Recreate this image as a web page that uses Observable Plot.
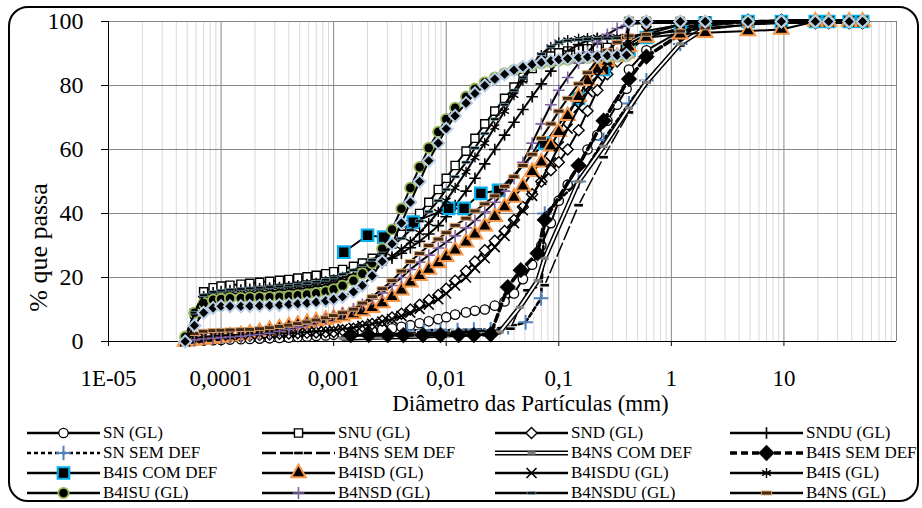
<!DOCTYPE html>
<html><head><meta charset="utf-8">
<script src="https://cdn.jsdelivr.net/npm/d3@7"></script>
<script src="https://cdn.jsdelivr.net/npm/@observablehq/plot@0.6"></script>
<style>
body{margin:0;background:#fff;}
#wrap{position:relative;width:922px;height:508px;overflow:hidden;font-family:"Liberation Serif","Times New Roman",serif;background:#fff;}
#chart svg{display:block;}
#frame{position:absolute;left:8px;top:6px;width:907px;height:492px;border:2px solid #000;border-radius:20px;pointer-events:none;}
#legend{position:absolute;left:0;top:422px;width:922px;height:86px;}
.item{position:absolute;height:20px;display:flex;align-items:center;font-size:17px;white-space:nowrap;}
.item svg{display:block;margin-right:3px;}
</style></head><body>
<div id="wrap"><div id="chart"></div><div id="legend"></div><div id="frame"></div></div>
<script>
// ---------- DATA ----------
const xTicks = [1e-5, 1e-4, 1e-3, 1e-2, 1e-1, 1, 10];
const xTickLabels = ["1E-05", "0,0001", "0,001", "0,01", "0,1", "1", "10"];
const yTicks = [0, 20, 40, 60, 80, 100];
const xTitle = "Diâmetro das Partículas (mm)";
const yTitle = "% que passa";

// laser granulometry (GL) size classes, mm
const diamGL = [0.000048, 0.000058, 0.00007, 0.000085, 0.0001, 0.00012, 0.00015, 0.00018, 0.00022, 0.00027, 0.00033, 0.0004, 0.00048, 0.00058, 0.0007, 0.00085, 0.001, 0.0012, 0.0015, 0.0018, 0.0022, 0.0027, 0.0033, 0.004, 0.0048, 0.0058, 0.007, 0.0085, 0.01, 0.012, 0.015, 0.018, 0.022, 0.027, 0.033, 0.04, 0.048, 0.058, 0.07, 0.085, 0.1, 0.12, 0.15, 0.18, 0.22, 0.27, 0.33, 0.4];
// sieve sizes used after the laser range, mm
const diamSieveGL = [0.42, 0.6, 1.2, 2, 4.8, 9.5, 19, 25, 38, 50];

const snGL    = [0, 0.2, 0.3, 0.4, 0.5, 0.6, 0.7, 0.8, 0.9, 1, 1.1, 1.2, 1.4, 1.5, 1.7, 1.9, 2.1, 2.4, 2.7, 3, 3.3, 3.7, 4.1, 4.6, 5.1, 5.7, 6.3, 7, 7.6, 8.4, 9.1, 9.6, 10, 11.2, 12.5, 15, 19.5, 24, 30, 37, 44, 49, 55, 60, 64.5, 69, 74, 79];
const snTail  = [85, 91, 97, 99.5, 100, 100, 100, 100, 100, 100];
const snuGL   = [0, 9, 15.5, 16.8, 17.3, 17.6, 17.9, 18.2, 18.5, 18.8, 19.1, 19.4, 19.8, 20.2, 20.7, 21.2, 21.8, 22.5, 23.5, 24.5, 26, 28, 30.5, 33.5, 36.5, 40, 43.5, 47.5, 51, 55, 59.5, 63.5, 68, 72, 76, 79.5, 82.5, 85.3, 87.5, 89.2, 90.2, 90.8, 91.2, 91.5, 91.7, 91.9, 92, 92];
const snuTail = [100, 100, 100, 100, 100, 100, 100, 100, 100, 100];
const sndGL   = [0, 0.5, 0.8, 1, 1.2, 1.4, 1.6, 1.8, 2, 2.2, 2.4, 2.5, 2.6, 2.7, 2.8, 2.9, 3, 3.5, 4, 4.7, 5.5, 6.5, 7.5, 8.7, 10, 11.5, 13, 14.5, 16.5, 19, 22, 25, 28.5, 31.5, 34.5, 38, 42, 46, 50, 53.5, 56, 60, 66, 72, 78.5, 83.5, 87.5, 90];
const sndTail = [93, 96, 99, 100, 100, 100, 100, 100, 100, 100];
const snduGL  = [0, 9, 14, 15.2, 15.6, 15.9, 16.1, 16.3, 16.5, 16.7, 16.9, 17.1, 17.4, 17.7, 18.1, 18.6, 19.2, 20, 21, 22, 23.2, 24.5, 26, 27.6, 29.3, 31.3, 33.6, 36.2, 39, 42.5, 47, 51, 55.5, 60, 64.5, 68.5, 72.5, 76.5, 80.5, 84.5, 88, 90.8, 92.8, 94, 94.6, 95, 95.2, 95.3];
const snduTail = [100, 100, 100, 100, 100, 100, 100, 100, 100, 100];

const snSemDefDiam = [0.0045, 0.0063, 0.0089, 0.0126, 0.0176, 0.0248, 0.0355, 0.0507, 0.0696, 0.075, 0.15, 0.25, 0.42, 0.6, 1.2, 2, 4.8, 9.5, 19, 25, 38, 50];
const snSemDefPct  = [3.5, 3.5, 3.6, 3.6, 3.7, 3.8, 4.5, 6, 13.5, 40, 50, 63, 74.4, 81.6, 93, 98, 99.5, 100, 100, 100, 100, 100];
const b4nsSemDefDiam = [0.0014, 0.003, 0.006, 0.012, 0.025, 0.0372, 0.0528, 0.075, 0.15, 0.25, 0.42, 0.6, 1.2, 2, 4.8, 9.5, 19, 25, 38, 50];
const b4nsSemDefPct  = [2, 2.5, 2.8, 3, 3.5, 4, 16, 17.6, 42.6, 57.6, 71.6, 81, 92.5, 97.5, 99.5, 100, 100, 100, 100, 100];
const b4nsComDefDiam = [0.0012, 0.0025, 0.005, 0.01, 0.02, 0.03, 0.045, 0.065, 0.075, 0.15, 0.25, 0.42, 0.6, 1.2, 2, 4.8, 9.5, 19, 25, 38, 50];
const b4nsComDefPct  = [1, 1.3, 1.6, 2, 2.5, 3, 10.7, 19, 26, 50, 61, 73, 81, 93, 98, 99.5, 100, 100, 100, 100, 100];
const b4isSemDefDiam = [0.00142, 0.00205, 0.00302, 0.00417, 0.00621, 0.0089, 0.0129, 0.0176, 0.0248, 0.0352, 0.0459, 0.0648, 0.075, 0.15, 0.25, 0.42, 0.6, 1.2, 2, 4.8, 9.5, 19, 25, 38, 50];
const b4isSemDefPct  = [2, 2, 2, 2, 2, 2, 2, 2, 2.2, 17, 22.3, 27.6, 38, 55, 69, 82, 89, 96, 99, 100, 100, 100, 100, 100, 100];
const b4isComDefDiam = [0.00123, 0.002, 0.00278, 0.0051, 0.0105, 0.0144, 0.0203, 0.0292, 0.075, 0.15, 0.25, 0.42, 0.6, 1.2, 2, 4.8, 9.5, 19, 25, 38, 50];
const b4isComDefPct  = [27.9, 33.2, 32.6, 37.3, 41.6, 41.6, 46.3, 47.2, 62, 76, 85, 91, 95, 98, 99.5, 100, 100, 100, 100, 100, 100];

const b4isdGL   = [0, 0.3, 0.6, 0.9, 1.2, 1.6, 2, 2.5, 3, 3.6, 4.2, 4.8, 5.3, 5.8, 6.3, 6.8, 7.3, 7.9, 8.6, 9.5, 10.5, 12, 14, 16, 18.5, 20.5, 22.5, 24.5, 26.5, 28.5, 31, 33.5, 36, 39, 42, 45, 48.5, 53, 56, 61, 65.5, 70.5, 76.5, 81.5, 85, 87.5, 89, 90];
const b4isdTail = [92, 95, 96, 96.5, 97, 97.5, 100, 100, 100, 100];
const b4isduGL  = [0, 1, 1.5, 1.7, 1.9, 2, 2.1, 2.2, 2.3, 2.4, 2.5, 2.6, 2.7, 2.9, 3.1, 3.3, 3.5, 3.9, 4.3, 4.9, 5.5, 6.2, 7, 8, 9, 10.2, 11.5, 13.2, 15, 17.5, 20, 23, 26, 29.5, 33, 37, 41, 45.5, 50.5, 56, 61, 66.5, 73, 78, 83, 87, 90, 92];
const b4isduTail = [94, 97, 99, 100, 100, 100, 100, 100, 100, 100];
const b4isGL    = [0, 8, 13, 14.2, 14.6, 14.9, 15.1, 15.3, 15.5, 15.7, 15.9, 16.1, 16.4, 16.7, 17.1, 17.6, 18.2, 19, 20, 21.3, 22.8, 24.6, 26.6, 28.8, 31.2, 34, 37, 40.5, 44, 48, 53, 57.5, 62, 67, 72, 77, 81.5, 86, 89.5, 92, 93.5, 94.2, 94.6, 94.8, 95, 95.1, 95.2, 95.3];
const b4isTail  = [100, 100, 100, 100, 100, 100, 100, 100, 100, 100];
const b4isuGL   = [1.5, 9, 12, 13, 13.3, 13.5, 13.6, 13.7, 13.8, 13.9, 14, 14.2, 14.4, 14.7, 15.1, 15.6, 16.3, 17.4, 19, 21.2, 24.5, 29, 35, 41.5, 48, 54.5, 60.5, 65.5, 69.5, 73, 76.5, 79, 81, 82.5, 83.8, 84.8, 85.6, 86.3, 86.9, 87.4, 87.8, 88.1, 88.4, 88.6, 88.8, 89, 89.1, 89.2];
const b4isuTail = [100, 100, 100, 100, 100, 100, 100, 100, 100, 100];
const b4nsdGL   = [0, 0.5, 0.8, 1, 1.2, 1.4, 1.6, 1.9, 2.2, 2.6, 3.2, 3.8, 4.5, 5.3, 6.1, 7, 7.9, 8.9, 10.2, 11.6, 13.2, 15.2, 17.5, 20, 22.5, 24.8, 27, 29.2, 31, 33, 35.5, 37.8, 40.5, 43.5, 47, 51, 56, 62, 68, 74, 78.5, 82.5, 87, 90.5, 93.5, 96, 97.8, 98.8];
const b4nsdTail = [99.2, 99.5, 99.5, 99.6, 99.8, 100, 100, 100, 100, 100];
const b4nsduGL  = [0, 9, 14.5, 15.5, 15.9, 16.2, 16.4, 16.6, 16.8, 17, 17.2, 17.5, 17.8, 18.2, 18.7, 19.3, 20, 21, 22.3, 23.8, 25.5, 27.5, 29.8, 32.2, 34.8, 37.6, 40.6, 44, 47.5, 51.5, 56, 60.5, 65, 69.5, 74, 78.5, 82.5, 86.5, 89.8, 92.2, 93.5, 94, 94.3, 94.5, 94.6, 94.7, 94.8, 94.9];
const b4nsduTail = [100, 100, 100, 100, 100, 100, 100, 100, 100, 100];
const b4nsGL    = [0, 2.5, 3.2, 3.4, 3.5, 3.6, 3.7, 3.8, 4, 4.3, 4.7, 5.1, 5.6, 6.1, 6.7, 7.4, 8.1, 9, 10.1, 12, 14, 16.5, 19, 22, 25, 27.5, 30, 32, 34, 36.3, 38.5, 40.8, 43, 45.5, 48.5, 51.5, 55, 58.5, 63.5, 68, 72, 76, 80.5, 84, 88, 91, 93.5, 95];
const b4nsTail  = [95.5, 96, 97, 98, 99, 100, 100, 100, 100, 100];
// series drawn with light-blue-edged diamonds, not listed in the legend
const extraGL   = [0, 5, 9, 10.5, 11, 11, 11, 11.1, 11.2, 11.3, 11.4, 11.6, 11.8, 12, 12.3, 12.7, 13.2, 14, 15.5, 17.5, 20.5, 25, 30.5, 37, 43.5, 50, 56.5, 62, 66.5, 70.5, 74.5, 77.5, 80, 82, 83.5, 84.8, 85.8, 86.6, 87.2, 87.7, 88.1, 88.4, 88.7, 88.9, 89.1, 89.3, 89.4, 89.5];
const extraTail = [100, 100, 100, 100, 100, 100, 100, 100, 100, 100];

// ---------- build ----------
const mk = (diam, pct) => diam.map((d, i) => ({d, p: pct[i]}));
const gl = (pct, tail) => mk(diamGL.concat(diamSieveGL), pct.concat(tail));

const symDiamond = {draw(c, size){const s = Math.sqrt(size/2); c.moveTo(0,-s); c.lineTo(s,0); c.lineTo(0,s); c.lineTo(-s,0); c.closePath();}};
const bar = (ratio) => ({draw(c, size){const h = Math.sqrt(size/ratio), w = h*ratio; c.rect(-w/2, -h/2, w, h);}});
const barBig = bar(2.6), barSmall = bar(3.2), barMid = bar(2.4);

const LW = 2;
const series = [
  {name:"SN (GL)", data: gl(snGL, snTail), line:{stroke:"#000", strokeWidth:LW}, dot:{symbol:"circle", r:4.7, fill:"#fff", stroke:"#000", strokeWidth:1.3}},
  {name:"SNU (GL)", data: gl(snuGL, snuTail), line:{stroke:"#000", strokeWidth:LW}, dot:{symbol:"square", r:4.6, fill:"#fff", stroke:"#000", strokeWidth:1.4}},
  {name:"SND (GL)", data: gl(sndGL, sndTail), line:{stroke:"#000", strokeWidth:LW}, dot:{symbol:symDiamond, r:4.4, fill:"#fff", stroke:"#000", strokeWidth:1.4}},
  {name:"SNDU (GL)", data: gl(snduGL, snduTail), line:{stroke:"#000", strokeWidth:LW}, dot:{symbol:"plus", r:3.8, fill:"none", stroke:"#000", strokeWidth:1.6}},
  {name:"SN SEM DEF", data: mk(snSemDefDiam, snSemDefPct), line:{stroke:"#000", strokeWidth:2.6, strokeDasharray:"4,3"}, dot:{symbol:"plus", r:4.8, fill:"none", stroke:"#4f81bd", strokeWidth:2}},
  {name:"B4NS SEM DEF", data: mk(b4nsSemDefDiam, b4nsSemDefPct), line:{stroke:"#000", strokeWidth:1.5, strokeDasharray:"14,4"}, dot:{symbol:barBig, r:3.4, fill:"#000", stroke:"#fff", strokeWidth:1}},
  {name:"B4NS COM DEF", data: mk(b4nsComDefDiam, b4nsComDefPct), double:true, line:{stroke:"#000", strokeWidth:5}, dot:{symbol:barMid, r:2.9, fill:"#808080", stroke:"none", strokeWidth:0}},
  {name:"B4IS SEM DEF", data: mk(b4isSemDefDiam, b4isSemDefPct), line:{stroke:"#000", strokeWidth:3.5, strokeDasharray:"7,4"}, dot:{symbol:symDiamond, r:6.3, fill:"#000", stroke:"#000", strokeWidth:0.5}},
  {name:"B4IS COM DEF", data: mk(b4isComDefDiam, b4isComDefPct), line:{stroke:"#000", strokeWidth:LW}, dot:{symbol:"square", r:6.5, fill:"#000", stroke:"#00b0f0", strokeWidth:2.2}},
  {name:"B4ISD (GL)", data: gl(b4isdGL, b4isdTail), line:{stroke:"#000", strokeWidth:LW}, dot:{symbol:"triangle", r:5.4, fill:"#000", stroke:"#f79646", strokeWidth:2}},
  {name:"B4ISDU (GL)", data: gl(b4isduGL, b4isduTail), line:{stroke:"#000", strokeWidth:LW}, dot:{symbol:"times", r:4.6, fill:"none", stroke:"#000", strokeWidth:1.6}},
  {name:"B4IS (GL)", data: gl(b4isGL, b4isTail), line:{stroke:"#000", strokeWidth:LW}, dot:{symbol:"asterisk", r:4.8, fill:"none", stroke:"#000", strokeWidth:1.4}},
  {name:"B4ISU (GL)", data: gl(b4isuGL, b4isuTail), line:{stroke:"#000", strokeWidth:LW}, dot:{symbol:"circle", r:5.2, fill:"#000", stroke:"#9bbb59", strokeWidth:1.8}},
  {name:"B4NSD (GL)", data: gl(b4nsdGL, b4nsdTail), line:{stroke:"#000", strokeWidth:LW}, dot:{symbol:"plus", r:3.9, fill:"none", stroke:"#8064a2", strokeWidth:1.6}},
  {name:"B4NSDU (GL)", data: gl(b4nsduGL, b4nsduTail), line:{stroke:"#000", strokeWidth:LW}, dot:{symbol:barSmall, r:2.7, fill:"#000", stroke:"#93cddd", strokeWidth:0.6}},
  {name:"B4NS (GL)", data: gl(b4nsGL, b4nsTail), line:{stroke:"#000", strokeWidth:LW}, dot:{symbol:barBig, r:3.6, fill:"#3f2a1a", stroke:"#e3a66e", strokeWidth:1}},
  {name:null, data: gl(extraGL, extraTail), line:{stroke:"#000", strokeWidth:LW}, dot:{symbol:symDiamond, r:4.8, fill:"#000", stroke:"#b9cde5", strokeWidth:2}}
];

// grid positions (styling)
const major = [1e-5, 1e-4, 1e-3, 1e-2, 1e-1, 1, 10, 100];
const minor = [];
for (let e = -5; e <= 1; e++) for (let k = 2; k <= 9; k++) minor.push(k * Math.pow(10, e));
const labelOf = new Map(xTicks.map((t, i) => [t, xTickLabels[i]]));

const seriesMarks = [];
for (const s of series) {
  seriesMarks.push(Plot.line(s.data, {x:"d", y:"p", ...s.line}));
  if (s.double) seriesMarks.push(Plot.line(s.data, {x:"d", y:"p", stroke:"#fff", strokeWidth:2}));
  seriesMarks.push(Plot.dot(s.data, {x:"d", y:"p", ...s.dot}));
}

const chart = Plot.plot({
  width: 922, height: 422,
  marginTop: 21, marginBottom: 81, marginLeft: 108, marginRight: 26,
  style: {fontFamily: "'Liberation Serif', 'Times New Roman', serif", fontSize: "24px", color: "#000", background: "#fff", overflow: "visible"},
  x: {type: "log", domain: [1e-5, 100]},
  y: {domain: [0, 100]},
  marks: [
    Plot.ruleX(minor, {stroke: "#d9d9d9", strokeWidth: 1}),
    Plot.ruleX(major, {stroke: "#868686", strokeWidth: 1}),
    Plot.ruleY([20, 40, 60, 80, 100], {stroke: "#868686", strokeWidth: 1}),
    Plot.ruleX([1e-5], {stroke: "#000", strokeWidth: 1}),
    Plot.ruleY([0], {stroke: "#000", strokeWidth: 1}),
    Plot.axisX({ticks: xTicks, tickFormat: d => labelOf.get(d), tickSize: 5, tickPadding: 23, fontSize: 23, label: null}),
    Plot.axisY({ticks: yTicks, tickSize: 7, tickPadding: 18, fontSize: 24, label: null}),
    ...seriesMarks,
    Plot.text([xTitle], {text: d => d, frameAnchor: "bottom", dx: 28, dy: 69.5, fontSize: 23, fill: "#000"}),
    Plot.text([yTitle], {text: d => d, frameAnchor: "left", textAnchor: "middle", rotate: -90, dx: -70, dy: 66, fontSize: 26, fill: "#000"})
  ]
});
document.getElementById("chart").appendChild(chart);

// ---------- legend ----------
const symMap = {circle: d3.symbolCircle, square: d3.symbolSquare, plus: d3.symbolPlus, times: d3.symbolTimes, asterisk: d3.symbolAsterisk, triangle: d3.symbolTriangle};
const colX = [27, 262, 495, 730];
const rowY = [10.5, 30.5, 50.5, 70.5];
const legend = document.getElementById("legend");
const named = series.filter(s => s.name);
named.forEach((s, i) => {
  const col = i % 4, row = Math.floor(i / 4);
  const div = document.createElement("div");
  div.className = "item";
  div.style.left = colX[col] + "px";
  div.style.top = (rowY[row] - 10) + "px";
  const w = 73, h = 20;
  const type = typeof s.dot.symbol === "string" ? symMap[s.dot.symbol] : s.dot.symbol;
  const path = d3.symbol(type, Math.PI * s.dot.r * s.dot.r)();
  let svg = `<svg width="${w}" height="${h}">`;
  const la = s.line;
  const lw = s.double ? 5 : Math.max(la.strokeWidth, 2.6);
  svg += `<line x1="0" x2="${w}" y1="10" y2="10" stroke="${la.stroke}" stroke-width="${lw}" ${la.strokeDasharray ? `stroke-dasharray="${la.strokeDasharray}"` : ""}/>`;
  if (s.double) svg += `<line x1="0" x2="${w}" y1="10" y2="10" stroke="#fff" stroke-width="2"/>`;
  svg += `<path transform="translate(${w/2},10)" d="${path}" fill="${s.dot.fill}" stroke="${s.dot.stroke}" stroke-width="${s.dot.strokeWidth}"/>`;
  svg += `</svg>`;
  div.innerHTML = svg + `<span>${s.name}</span>`;
  legend.appendChild(div);
});
</script></body></html>
